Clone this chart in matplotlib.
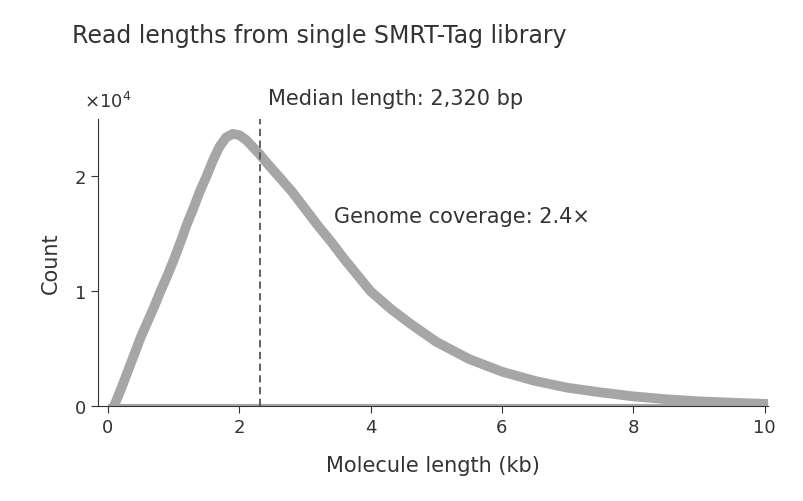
import matplotlib.pyplot as plt

# histogram outline (kb, count)
lengths_kb = [0.1, 0.2, 0.3, 0.4, 0.5, 0.6, 0.7, 0.8, 0.9, 1.0, 1.1, 1.2, 1.3, 1.4, 1.5,
              1.6, 1.7, 1.8, 1.9, 2.0, 2.1, 2.2, 2.3, 2.4, 2.6, 2.8, 3.0, 3.2, 3.4, 3.6,
              3.8, 4.0, 4.3, 4.6, 5.0, 5.5, 6.0, 6.5, 7.0, 7.5, 8.0, 8.5, 9.0, 9.5, 10.0]
counts = [100, 1500, 3000, 4500, 6000, 7300, 8600, 10000, 11300, 12700, 14200, 15800, 17200,
          18700, 20000, 21400, 22600, 23400, 23700, 23600, 23200, 22600, 22000, 21300, 20000,
          18700, 17200, 15700, 14300, 12800, 11400, 10000, 8500, 7200, 5600, 4100, 3000,
          2200, 1600, 1200, 850, 600, 420, 300, 200]

median_kb = 2.32
yticks = [0, 10000, 20000]
ytick_labels = ['0', '1', '2']
xticks = [0, 2, 4, 6, 8, 10]

txt = '#333333'
grey = '#a6a6a6'

fig = plt.figure(figsize=(8.04, 5.02), dpi=100)
ax = fig.add_axes([0.122, 0.189, 0.833, 0.572])

ax.plot([0, 10], [0, 0], color=grey, lw=3, solid_capstyle='butt')
ax.plot(lengths_kb, counts, color=grey, lw=7, solid_joinstyle='round')
ax.axvline(median_kb, color='#555555', lw=1.3, ls=(0, (4, 2.5)))

ax.set_xlim(-0.15, 10.05)
ax.set_ylim(0, 25000)
ax.set_xticks(xticks)
ax.set_yticks(yticks)
ax.set_yticklabels(ytick_labels)
ax.tick_params(labelsize=13, colors=txt, length=5)
for s in ['top', 'right']:
    ax.spines[s].set_visible(False)
for s in ['left', 'bottom']:
    ax.spines[s].set_color(txt)

ax.set_xlabel('Molecule length (kb)', fontsize=15, color=txt, labelpad=14)
ax.set_ylabel('Count', fontsize=15, color=txt, labelpad=10)

fig.text(0.105, 0.785, '×10$^4$', fontsize=13, color=txt)
fig.text(0.333, 0.79, 'Median length: 2,320 bp', fontsize=15, color=txt)
fig.text(0.416, 0.555, 'Genome coverage: 2.4×', fontsize=15, color=txt)
fig.text(0.09, 0.915, 'Read lengths from single SMRT-Tag library', fontsize=17, color=txt)

fig.savefig('out.png', dpi=100)
